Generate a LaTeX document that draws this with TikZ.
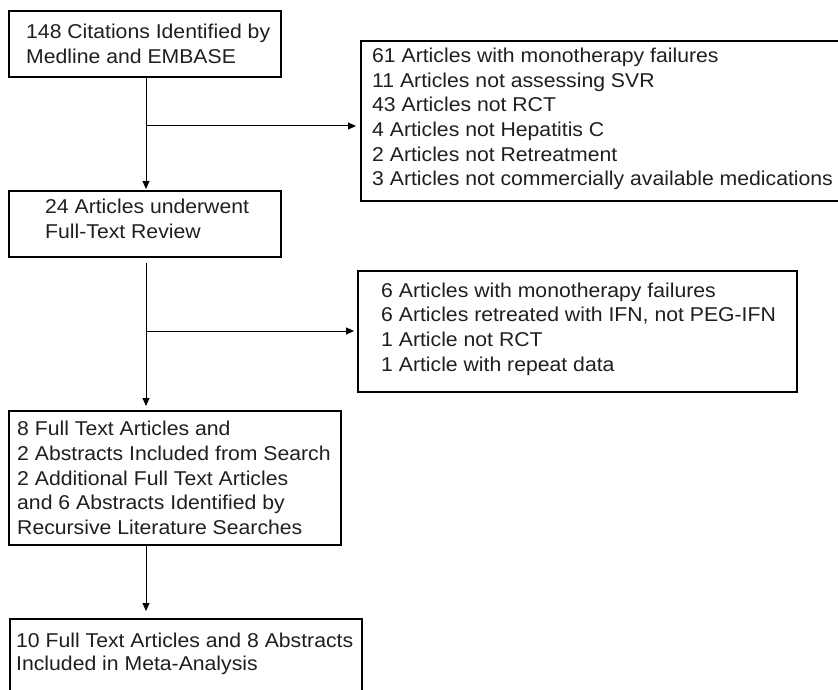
\documentclass[tikz,border=0pt]{standalone}
\usepackage{fontspec}
\setmainfont{Liberation Sans}[FakeStretch=1.06]
\usetikzlibrary{arrows.meta}
\begin{document}
\begin{tikzpicture}[x=1pt,y=-1pt,
  box/.style={draw=black, line width=1.1pt, anchor=north west, inner sep=0pt, outer sep=0pt},
  boxb/.style={box, line width=1.7pt},
  txt/.style={anchor=west, align=left, inner sep=0pt, text=black!88, font=\fontsize{20}{24.6}\selectfont},
  arr/.style={line width=1pt, -{Triangle[length=8pt,width=7pt]}}]
\useasboundingbox (0,0) rectangle (838,690);
\clip (0,0) rectangle (838,690);
% boxes
\node[box,  minimum width=272, minimum height=66]  (b1) at (9,11) {};
\node[box,  minimum width=272, minimum height=66]  (b2) at (9,191) {};
\node[boxb, minimum width=500, minimum height=160] (r1) at (361,41) {};
\node[box,  minimum width=439, minimum height=121] (r2) at (358,271) {};
\node[boxb, minimum width=332, minimum height=134] (b3) at (9,411) {};
\node[boxb, minimum width=352, minimum height=100] (b4) at (10,619) {};
% texts
\node[txt] (t1) at (26,44) {148 Citations Identified by\\Medline and EMBASE};
\node[txt] (t2) at (45,219) {24 Articles underwent\\Full-Text Review};
\node[txt] (tr1) at (372,119) {61 Articles with monotherapy failures\\11 Articles not assessing SVR\\43 Articles not RCT\\4 Articles not Hepatitis C\\2 Articles not Retreatment\\3 Articles not commercially available medications};
\node[txt] (tr2) at (381,329) {6 Articles with monotherapy failures\\6 Articles retreated with IFN, not PEG-IFN\\1 Article not RCT\\1 Article with repeat data};
\node[txt] (t3) at (17,478) {8 Full Text Articles and\\2 Abstracts Included from Search\\2 Additional Full Text Articles\\and 6 Abstracts Identified by\\Recursive Literature Searches};
\node[txt, font=\fontsize{20}{23}\selectfont] (t4) at (16,654) {10 Full Text Articles and 8 Abstracts\\Included in Meta-Analysis};
% connectors
\coordinate (j1) at (146,126);
\coordinate (j2) at (146,331);
\draw[arr] (b1.south -| j1) -- ([yshift=2pt]b2.north -| j1);
\draw[arr] (j1) -- ([xshift=-5pt]r1.west |- j1);
\draw[arr] ([yshift=-6pt]b2.south -| j2) -- ([yshift=5pt]b3.north -| j2);
\draw[arr] (j2) -- ([xshift=-4pt]r2.west |- j2);
\draw[arr] (b3.south -| j1) -- ([yshift=8pt]b4.north -| j1);
\end{tikzpicture}
\end{document}
